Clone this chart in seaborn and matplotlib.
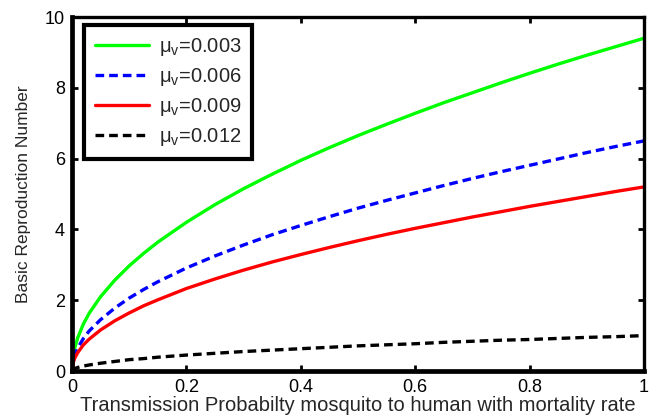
import numpy as np
import pandas as pd
import matplotlib
matplotlib.use("Agg")
import matplotlib.pyplot as plt
import seaborn as sns

# ---- data ----
x_vals = [0.0, 0.002, 0.005, 0.01, 0.02, 0.03, 0.05, 0.075, 0.1, 0.125, 0.15, 0.2, 0.25,
          0.3, 0.35, 0.4, 0.45, 0.5, 0.55, 0.6, 0.65, 0.7, 0.75, 0.8, 0.85, 0.9, 0.95, 1.0]
r0_mu_003 = [0.0, 0.42, 0.66, 0.94, 1.33, 1.63, 2.10, 2.57, 2.97, 3.32, 3.64, 4.20, 4.70,
             5.15, 5.56, 5.95, 6.31, 6.65, 6.97, 7.28, 7.58, 7.86, 8.14, 8.41, 8.67, 8.92, 9.16, 9.40]
r0_mu_006 = [0.0, 0.29, 0.46, 0.65, 0.92, 1.13, 1.45, 1.78, 2.06, 2.30, 2.52, 2.91, 3.25,
             3.56, 3.85, 4.11, 4.36, 4.60, 4.82, 5.03, 5.24, 5.44, 5.63, 5.81, 5.99, 6.17, 6.34, 6.50]
r0_mu_009 = [0.0, 0.23, 0.37, 0.52, 0.74, 0.90, 1.16, 1.42, 1.64, 1.84, 2.01, 2.33, 2.60,
             2.85, 3.08, 3.29, 3.49, 3.68, 3.86, 4.03, 4.19, 4.35, 4.50, 4.65, 4.79, 4.93, 5.07, 5.20]
r0_mu_012 = [0.0, 0.04, 0.07, 0.10, 0.14, 0.17, 0.22, 0.27, 0.32, 0.35, 0.39, 0.45, 0.50,
             0.55, 0.59, 0.63, 0.67, 0.71, 0.74, 0.77, 0.81, 0.84, 0.87, 0.89, 0.92, 0.95, 0.97, 1.00]
series_labels = ["μ$_{\\mathregular{v}}$=0.003", "μ$_{\\mathregular{v}}$=0.006",
                 "μ$_{\\mathregular{v}}$=0.009", "μ$_{\\mathregular{v}}$=0.012"]
x_ticks = [0, 0.2, 0.4, 0.6, 0.8, 1]
x_ticklabels = ["0", "0.2", "0.4", "0.6", "0.8", "1"]
y_ticks = [0, 2, 4, 6, 8, 10]
x_label = "Transmission Probabilty mosquito to human with mortality rate"
y_label = "Basic Reproduction Number"

frames = []
for lab, vals in zip(series_labels, [r0_mu_003, r0_mu_006, r0_mu_009, r0_mu_012]):
    frames.append(pd.DataFrame({"x": x_vals, "R0": vals, "series": lab}))
df = pd.concat(frames, ignore_index=True)

sns.set_style("ticks")
plt.rcParams["font.family"] = ["Liberation Sans", "DejaVu Sans"]
plt.rcParams["mathtext.fontset"] = "custom"
plt.rcParams["mathtext.rm"] = "Liberation Sans"
plt.rcParams["lines.solid_joinstyle"] = "round"
plt.rcParams["lines.dash_joinstyle"] = "round"

fig = plt.figure(figsize=(6.57, 4.20), dpi=100)
W, H = 657, 420
ax = fig.add_axes([72 / W, 1 - 371 / H, (644 - 72) / W, (371 - 17) / H])

palette = {series_labels[0]: "#00ff00", series_labels[1]: "#0000ff",
           series_labels[2]: "#ff0000", series_labels[3]: "#000000"}
dashes = {series_labels[0]: "", series_labels[1]: (2.6, 1.5),
          series_labels[2]: "", series_labels[3]: (2.6, 1.5)}
sns.lineplot(data=df, x="x", y="R0", hue="series", style="series",
             palette=palette, dashes=dashes, linewidth=2.4, ax=ax,
             hue_order=series_labels, style_order=series_labels, legend=True)

ax.set_xlim(0, 1)
ax.set_ylim(0, 10)
ax.set_xticks(x_ticks)
ax.set_xticklabels(x_ticklabels)
ax.set_yticks(y_ticks)
ax.tick_params(direction="in", length=4, width=2, labelsize=13,
               top=True, right=True, color="black", labelcolor="black")
ax.tick_params(axis="x", pad=6)
ax.tick_params(axis="y", pad=5)
for side in ["left", "bottom"]:
    ax.spines[side].set_linewidth(3.4)
for side in ["top", "right"]:
    ax.spines[side].set_linewidth(2.4)
for s in ax.spines.values():
    s.set_color("black")
    s.set_visible(True)

ax.set_xlabel(x_label, fontsize=14.5, labelpad=0)
ax.set_ylabel(y_label, fontsize=12.5, labelpad=10)

handles, labels = ax.get_legend_handles_labels()
leg = ax.legend(handles, labels, loc="upper left",
                bbox_to_anchor=((84 - 72) / 572, 1 - 8 / 354),
                borderaxespad=0, fontsize=14.5, handlelength=2.7,
                handletextpad=0.45, labelspacing=0.4, borderpad=0.55,
                frameon=True, fancybox=False, framealpha=1, edgecolor="black")
leg.get_frame().set_linewidth(3.0)
for lh in leg.get_lines():
    lh.set_linewidth(2.4)

fig.savefig("out.png", dpi=100)
